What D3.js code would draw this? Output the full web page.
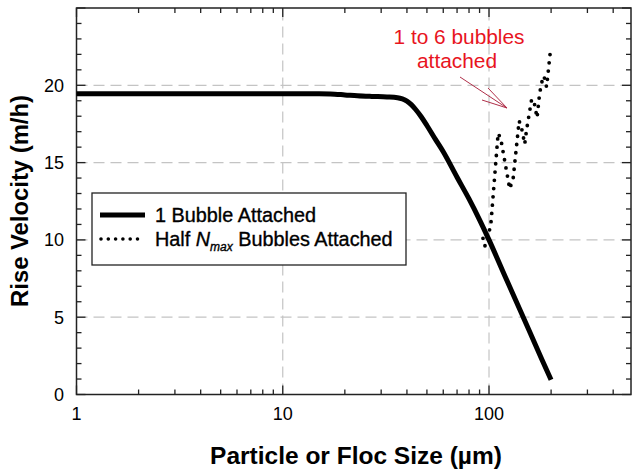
<!DOCTYPE html>
<html>
<head>
<meta charset="utf-8">
<script src="https://cdn.jsdelivr.net/npm/d3@7"></script>
<style>
  body { margin: 0; background: #fff; }
  text { font-family: "Liberation Sans", Arial, sans-serif; }
</style>
</head>
<body>
<svg id="chart" width="632" height="472"></svg>
<script>
// Data
var sizeOne = [1, 5, 10, 15, 17, 20, 23, 27, 32, 36, 38, 40, 42, 44, 47, 50, 55, 60, 70, 80, 90, 100, 120, 140, 160, 180, 200];
var velOne  = [19.45, 19.45, 19.45, 19.45, 19.44, 19.38, 19.32, 19.28, 19.25, 19.2, 19.12, 18.98, 18.75, 18.45, 17.95, 17.4, 16.5, 15.7, 14.05, 12.65, 11.3, 10.0, 7.6, 5.6, 3.85, 2.3, 0.95];

var sizeHalf = [93.5, 95.5, 99, 102, 110.7, 114, 126, 131, 140, 144, 149, 152, 161, 165, 171, 176, 183, 187, 190, 192, 198];
var velHalf  = [10.1, 9.6, 10.3, 10.95, 16.9, 16.55, 13.3, 14.0, 17.7, 17.2, 16.2, 17.1, 19.1, 19.0, 17.9, 19.5, 20.6, 20.4, 19.9, 20.4, 22.1];

var yTicks = [0, 5, 10, 15, 20];
var xTicks = [1, 10, 100];
var gridX = [10, 100];
var gridY = [5, 10, 15, 20];

// colours
var lineColour = 'black';
var axisColour = '#222';
var gridColour = '#c4c4c4';
var noteColour = '#e8141e';
var arrowColour = '#b0304a';

var svg = d3.select("#chart");

var x = d3.scaleLog().domain([1, 488]).range([76.5, 631]);
var y = d3.scaleLinear().domain([0, 25]).range([394.5, 8]);

// shrink or grow a text's font so it takes the width seen in the picture
function fitText(sel, width) {
  var size = parseFloat(sel.attr("font-size"));
  var len = sel.node().getComputedTextLength();
  sel.attr("font-size", (size * width / len).toFixed(2));
  return sel;
}

// grid
svg.selectAll("line.gx").data(gridX).enter().append("line")
  .attr("x1", function (d) { return x(d) }).attr("x2", function (d) { return x(d) })
  .attr("y1", y(0)).attr("y2", y(25))
  .attr("stroke", gridColour).attr("stroke-width", 1.2)
  .attr("stroke-dasharray", "11,6");
svg.selectAll("line.gy").data(gridY).enter().append("line")
  .attr("x1", x.range()[0]).attr("x2", x.range()[1])
  .attr("y1", function (d) { return y(d) }).attr("y2", function (d) { return y(d) })
  .attr("stroke", gridColour).attr("stroke-width", 1.2)
  .attr("stroke-dasharray", "11,6");

// minor/major ticks on all four sides, pointing in
var xMinor = [];
[1, 10, 100].forEach(function (dec) {
  for (var k = 1; k < 10; k++) if (dec * k <= 488) xMinor.push(dec * k);
});
var yMinor = d3.range(0, 26);

function tickLen(isMajor) { return isMajor ? 9 : 5; }

var axes = svg.append("g").attr("stroke", axisColour).attr("stroke-width", 1.3);
xMinor.forEach(function (v) {
  var major = xTicks.indexOf(v) > -1;
  axes.append("line").attr("x1", x(v)).attr("x2", x(v))
    .attr("y1", y(0)).attr("y2", y(0) - tickLen(major));
  axes.append("line").attr("x1", x(v)).attr("x2", x(v))
    .attr("y1", y(25)).attr("y2", y(25) + tickLen(major));
});
yMinor.forEach(function (v) {
  var major = v % 5 === 0;
  axes.append("line").attr("y1", y(v)).attr("y2", y(v))
    .attr("x1", x.range()[0]).attr("x2", x.range()[0] + tickLen(major));
  axes.append("line").attr("y1", y(v)).attr("y2", y(v))
    .attr("x1", x.range()[1]).attr("x2", x.range()[1] - tickLen(major));
});
svg.append("rect")
  .attr("x", x.range()[0]).attr("y", y(25))
  .attr("width", x.range()[1] - x.range()[0]).attr("height", y(0) - y(25))
  .attr("fill", "none").attr("stroke", axisColour).attr("stroke-width", 1.5);

// tick labels
svg.selectAll("text.ylab").data(yTicks).enter().append("text")
  .attr("x", 64).attr("y", function (d) { return y(d) + 6.5 })
  .attr("text-anchor", "end").attr("font-size", 18)
  .text(function (d) { return d });
svg.selectAll("text.xlab").data(xTicks).enter().append("text")
  .attr("x", function (d) { return x(d) }).attr("y", 420)
  .attr("text-anchor", "middle").attr("font-size", 18)
  .text(function (d) { return d });

// axis titles
var yTitle = svg.append("text")
  .attr("transform", "translate(28,201) rotate(-90)")
  .attr("text-anchor", "middle").attr("font-size", 21).attr("font-weight", "bold")
  .text("Rise Velocity (m/h)");
fitText(yTitle, 212);
var xTitle = svg.append("text")
  .attr("x", 356).attr("y", 464)
  .attr("text-anchor", "middle").attr("font-size", 22).attr("font-weight", "bold")
  .text("Particle or Floc Size (\u00b5m)");
fitText(xTitle, 292);

// series
var line = d3.line()
  .x(function (d) { return x(d[0]) })
  .y(function (d) { return y(d[1]) })
  .curve(d3.curveMonotoneX);

svg.append("path")
  .datum(d3.zip(sizeOne, velOne))
  .attr("d", line)
  .attr("fill", "none").attr("stroke", lineColour).attr("stroke-width", 5)
  .attr("stroke-linejoin", "round");

var dotLine = d3.line()
  .x(function (d) { return x(d[0]) })
  .y(function (d) { return y(d[1]) });

svg.append("path")
  .datum(d3.zip(sizeHalf, velHalf))
  .attr("d", dotLine)
  .attr("fill", "none").attr("stroke", lineColour).attr("stroke-width", 3.8)
  .attr("stroke-linecap", "round").attr("stroke-dasharray", "0,8.3");

// legend
var legend = svg.append("g");
legend.append("rect")
  .attr("x", 92).attr("y", 193).attr("width", 314).attr("height", 72)
  .attr("fill", "white").attr("stroke", axisColour).attr("stroke-width", 1.3);
legend.append("line")
  .attr("x1", 100).attr("x2", 145).attr("y1", 215).attr("y2", 215)
  .attr("stroke", lineColour).attr("stroke-width", 5);
legend.append("line")
  .attr("x1", 101).attr("x2", 138).attr("y1", 239).attr("y2", 239)
  .attr("stroke", lineColour).attr("stroke-width", 3.6)
  .attr("stroke-linecap", "round").attr("stroke-dasharray", "0,7.3");
var t1 = legend.append("text")
  .attr("x", 155).attr("y", 221.5).attr("font-size", 18)
  .attr("stroke", "black").attr("stroke-width", 0.35)
  .text("1 Bubble Attached");
fitText(t1, 161);
var t2 = legend.append("text").attr("x", 155).attr("y", 245.5)
  .attr("font-size", t1.attr("font-size"))
  .attr("stroke", "black").attr("stroke-width", 0.35);
t2.append("tspan").text("Half ");
t2.append("tspan").attr("font-style", "italic").text("N");
t2.append("tspan").attr("font-style", "italic").attr("font-size", 12).attr("dy", 5).text("max");
t2.append("tspan").attr("dy", -5).text(" Bubbles Attached");

// annotation
var n1 = svg.append("text")
  .attr("x", 459).attr("y", 44).attr("text-anchor", "middle")
  .attr("font-size", 20).attr("fill", noteColour)
  .text("1 to 6 bubbles");
fitText(n1, 131);
svg.append("text")
  .attr("x", 457).attr("y", 68).attr("text-anchor", "middle")
  .attr("font-size", n1.attr("font-size")).attr("fill", noteColour)
  .text("attached");
var arrow = svg.append("g").attr("stroke", arrowColour).attr("stroke-width", 1).attr("fill", "none");
arrow.append("line").attr("x1", 460).attr("y1", 77).attr("x2", 507).attr("y2", 108);
arrow.append("line").attr("x1", 482).attr("y1", 100).attr("x2", 507).attr("y2", 108);
arrow.append("line").attr("x1", 488).attr("y1", 88).attr("x2", 507).attr("y2", 108);
</script>
</body>
</html>
